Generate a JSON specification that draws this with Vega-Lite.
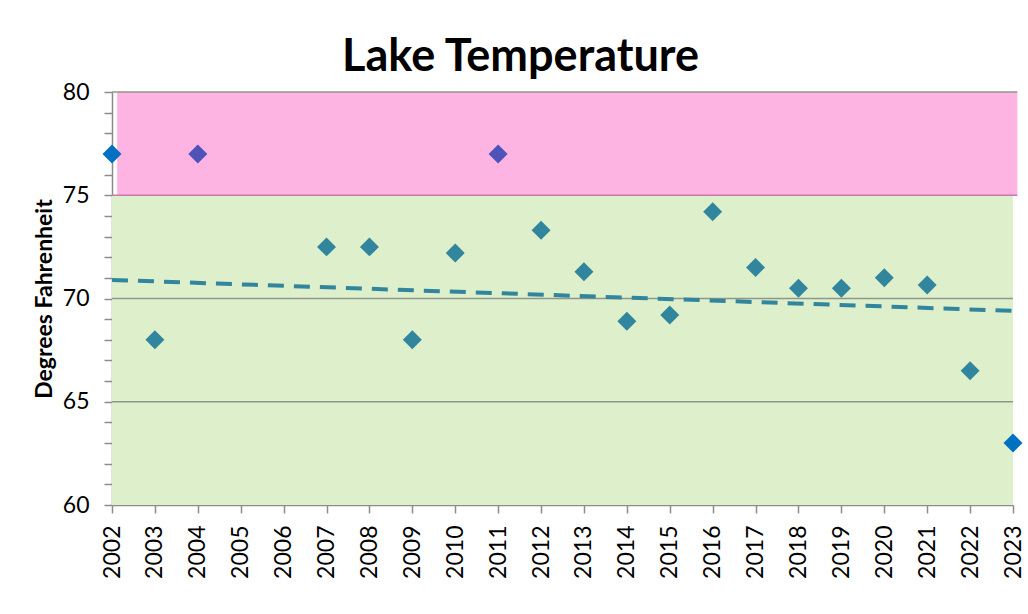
{
  "$schema": "https://vega.github.io/schema/vega-lite/v6.json",
  "width": 901,
  "height": 413,
  "autosize": {"type": "none"},
  "padding": {"left": 112, "top": 92, "right": 15, "bottom": 109},
  "background": "white",
  "title": {"text": "Lake Temperature", "font": "Lato", "fontSize": 45, "fontWeight": "bold", "color": "#000000", "anchor": "middle", "dx": -42, "offset": 1},
  "config": {"view": {"stroke": null}, "font": "Lato"},
  "datasets": {
    "bands": [
      {"year": 2002, "year2": 2023, "temp": 60, "temp2": 75, "zone": "ok"},
      {"year": 2002.12, "year2": 2023.1, "temp": 75, "temp2": 80, "zone": "hot"}
    ],
    "grid": [
      {"year": 2002, "year2": 2023, "temp": 65, "kind": "plain"},
      {"year": 2002, "year2": 2023, "temp": 70, "kind": "plain"},
      {"year": 2002, "year2": 2023.1, "temp": 75, "kind": "pink"},
      {"year": 2002, "year2": 2023.1, "temp": 80, "kind": "plain"}
    ],
    "trend": [
      {"year": 2002, "temp": 70.9},
      {"year": 2023, "temp": 69.4}
    ],
    "obs": [
      {"year": 2002, "temp": 77.0, "grp": "blue"},
      {"year": 2003, "temp": 68.0, "grp": "teal"},
      {"year": 2004, "temp": 77.0, "grp": "purple"},
      {"year": 2007, "temp": 72.5, "grp": "teal"},
      {"year": 2008, "temp": 72.5, "grp": "teal"},
      {"year": 2009, "temp": 68.0, "grp": "teal"},
      {"year": 2010, "temp": 72.2, "grp": "teal"},
      {"year": 2011, "temp": 77.0, "grp": "purple"},
      {"year": 2012, "temp": 73.3, "grp": "teal"},
      {"year": 2013, "temp": 71.3, "grp": "teal"},
      {"year": 2014, "temp": 68.9, "grp": "teal"},
      {"year": 2015, "temp": 69.2, "grp": "teal"},
      {"year": 2016, "temp": 74.2, "grp": "teal"},
      {"year": 2017, "temp": 71.5, "grp": "teal"},
      {"year": 2018, "temp": 70.5, "grp": "teal"},
      {"year": 2019, "temp": 70.5, "grp": "teal"},
      {"year": 2020, "temp": 71.0, "grp": "teal"},
      {"year": 2021, "temp": 70.65, "grp": "teal"},
      {"year": 2022, "temp": 66.5, "grp": "teal"},
      {"year": 2023, "temp": 63.0, "grp": "blue"}
    ]
  },
  "encoding": {
    "x": {"field": "year", "type": "quantitative",
      "scale": {"domain": [2002, 2023], "nice": false, "zero": false},
      "axis": {"values": [2002,2003,2004,2005,2006,2007,2008,2009,2010,2011,2012,2013,2014,2015,2016,2017,2018,2019,2020,2021,2022,2023],
        "format": "d", "labelAngle": 270, "labelFontSize": 23, "labelColor": "#000000", "labelPadding": 12, "labelFlush": false, "labelOverlap": false,
        "tickSize": 8, "tickColor": "#8C8C8C", "domainColor": "#8C8C8C", "domainWidth": 1.5, "tickWidth": 1.5, "grid": false, "title": null}},
    "y": {"field": "temp", "type": "quantitative",
      "scale": {"domain": [60, 80], "nice": false, "zero": false},
      "axis": {"values": [60,61,62,63,64,65,66,67,68,69,70,71,72,73,74,75,76,77,78,79,80],
        "labelExpr": "datum.value % 5 === 0 ? datum.label : ''", "labelFontSize": 23, "labelColor": "#000000", "labelPadding": 15, "labelFlush": false, "labelOverlap": false,
        "tickSize": 8, "tickColor": "#8C8C8C", "domainColor": "#8C8C8C", "domainWidth": 1.5, "tickWidth": 1.5, "grid": false,
        "title": "Degrees Fahrenheit", "titleFont": "Lato", "titleFontSize": 23, "titleFontWeight": "bold", "titleColor": "#000000", "titlePadding": 6}}
  },
  "layer": [
    {
      "data": {"name": "bands"},
      "mark": {"type": "rect"},
      "encoding": {
        "x2": {"field": "year2"},
        "y2": {"field": "temp2"},
        "color": {"field": "zone", "type": "nominal", "scale": {"domain": ["ok", "hot"], "range": ["#DDEFCB", "#FDB4E2"]}, "legend": null}
      }
    },
    {
      "data": {"name": "grid"},
      "mark": {"type": "rule", "strokeWidth": 1.3},
      "encoding": {
        "x2": {"field": "year2"},
        "stroke": {"field": "kind", "type": "nominal", "scale": {"domain": ["plain", "pink"], "range": ["#8F968A", "#C47BA8"]}, "legend": null}
      }
    },
    {
      "data": {"name": "trend"},
      "mark": {"type": "line", "color": "#31859C", "strokeWidth": 4, "strokeDash": [16, 10]},
      "encoding": {}
    },
    {
      "data": {"name": "obs"},
      "mark": {"type": "point", "shape": "diamond", "filled": true, "size": 360, "opacity": 1},
      "encoding": {
        "fill": {"field": "grp", "type": "nominal", "scale": {"domain": ["teal", "blue", "purple"], "range": ["#31859C", "#0070C0", "#4F52B8"]}, "legend": null}
      }
    }
  ],
  "resolve": {"scale": {"color": "independent", "stroke": "independent", "fill": "independent"}}
}
